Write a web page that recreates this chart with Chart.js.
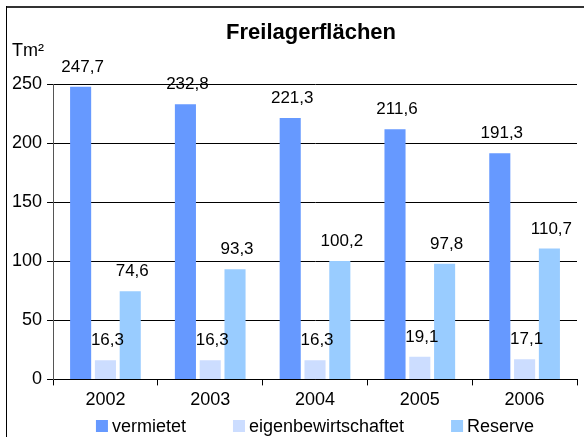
<!DOCTYPE html>
<html lang="de">
<head>
    <meta charset="UTF-8">
    <title>Freilagerflächen</title>
    <script src="https://cdn.jsdelivr.net/npm/chart.js"></script>
    <style>
        html, body {
            margin: 0;
            padding: 0;
            background: #fff;
            overflow: hidden;
        }
        #wrap {
            width: 584px;
            height: 437px;
            position: relative;
        }
    </style>
</head>
<body>
    <div id="wrap">
        <canvas id="chart" width="584" height="437"></canvas>
    </div>
    <script>
        const years = ['2002', '2003', '2004', '2005', '2006'];
        const vermietet = [247.7, 232.8, 221.3, 211.6, 191.3];
        const eigenbewirtschaftet = [16.3, 16.3, 16.3, 19.1, 17.1];
        const reserve = [74.6, 93.3, 100.2, 97.8, 110.7];

        const FONT = '"Liberation Sans", Arial, sans-serif';

        // frame, title, unit label, value labels and legend row
        const decor = {
            id: 'decor',
            beforeDraw(chart) {
                const c = chart.ctx;
                c.save();
                c.fillStyle = '#333';
                c.fillRect(6, 6, chart.width - 6, 2);
                c.fillStyle = '#000';
                c.fillRect(6, 6, 1, chart.height - 6);
                c.restore();
            },
            afterDatasetsDraw(chart) {
                const c = chart.ctx;
                const area = chart.chartArea;
                const mid = (area.left + area.right) / 2;
                c.save();
                c.fillStyle = '#000';
                c.textAlign = 'center';
                c.textBaseline = 'middle';
                c.font = 'bold 22px ' + FONT;
                c.fillText('Freilagerflächen', mid - 4, area.top - 51);
                c.textAlign = 'left';
                c.font = '18px ' + FONT;
                c.fillText('Tm²', 12, area.top - 33);

                c.font = '17px ' + FONT;
                c.textAlign = 'center';
                c.textBaseline = 'alphabetic';
                chart.data.datasets.forEach((ds, i) => {
                    const meta = chart.getDatasetMeta(i);
                    meta.data.forEach((bar, j) => {
                        const txt = ds.data[j].toFixed(1).replace('.', ',');
                        c.fillText(txt, bar.x + 2, bar.y - 15);
                    });
                });

                // legend
                c.font = '18px ' + FONT;
                c.textBaseline = 'middle';
                c.textAlign = 'left';
                const box = 12, gap = 4, spacing = 47;
                const widths = chart.data.datasets.map(ds => box + gap + c.measureText(ds.label).width);
                const total = widths.reduce((a, b) => a + b, 0) + spacing * (widths.length - 1);
                let x = mid - total / 2;
                const y = chart.height - 11;
                chart.data.datasets.forEach((ds, i) => {
                    c.fillStyle = ds.backgroundColor;
                    c.fillRect(x, y - box / 2, box, box);
                    c.fillStyle = '#000';
                    c.fillText(ds.label, x + box + gap, y + 1);
                    x += widths[i] + spacing;
                });
                c.restore();
            }
        };

        new Chart(document.getElementById('chart'), {
            type: 'bar',
            data: {
                labels: years,
                datasets: [
                    { label: 'vermietet', data: vermietet, backgroundColor: '#6699FF' },
                    { label: 'eigenbewirtschaftet', data: eigenbewirtschaftet, backgroundColor: '#CCDDFF' },
                    { label: 'Reserve', data: reserve, backgroundColor: '#99CCFF' }
                ]
            },
            options: {
                responsive: false,
                animation: false,
                categoryPercentage: 0.71,
                barPercentage: 0.85,
                layout: {
                    padding: { top: 84, left: 7, right: 7, bottom: 22 }
                },
                plugins: {
                    title: { display: false },
                    tooltip: { enabled: false },
                    legend: { display: false }
                },
                scales: {
                    x: {
                        grid: {
                            offset: true,
                            drawOnChartArea: false,
                            drawTicks: true,
                            tickLength: 6,
                            color: '#000'
                        },
                        border: { color: '#000', width: 1 },
                        ticks: {
                            color: '#000',
                            padding: 4,
                            font: { family: FONT, size: 18 }
                        }
                    },
                    y: {
                        min: 0,
                        max: 250,
                        ticks: {
                            stepSize: 50,
                            color: '#000',
                            padding: 5,
                            font: { family: FONT, size: 18 }
                        },
                        grid: {
                            color: '#000',
                            tickLength: 6,
                            lineWidth: 1
                        },
                        border: { color: '#555', width: 1 }
                    }
                }
            },
            plugins: [decor]
        });
    </script>
</body>
</html>
